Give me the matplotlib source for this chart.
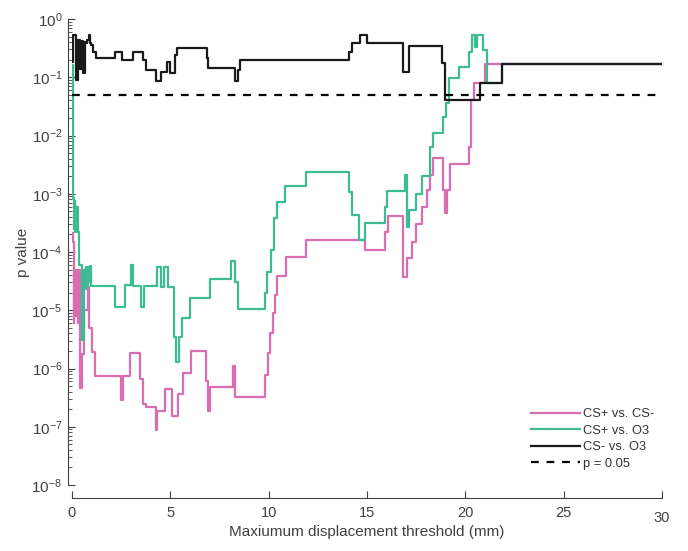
import numpy as np
import matplotlib
matplotlib.use('Agg')
import matplotlib.pyplot as plt
from matplotlib.ticker import FuncFormatter

# step data (x = threshold in mm, p value from that point on)
pink_x = [0, 0.04, 0.08, 0.12, 0.17, 0.22, 0.3, 0.35, 0.42, 0.5, 0.62, 0.8, 0.87, 1.0, 1.17,
          2.5, 2.6, 2.95, 3.45, 3.6, 3.75, 4.25, 4.33, 4.75, 5.07, 5.4, 5.65, 6.05, 6.8, 6.9,
          7.0, 8.2, 8.27, 9.8, 9.95, 10.05, 10.2, 10.3, 10.4, 10.9, 11.9, 14.9, 15.9, 16.05,
          16.85, 17.05, 17.3, 17.5, 17.8, 18.05, 18.2, 18.35, 18.85, 18.95, 19.05, 19.2,
          20.2, 20.3, 20.45, 21.0, 30]
pink_p = [2.1e-4, 1.5e-4, 6e-6, 5e-5, 8e-6, 4.9e-5, 6e-6, 4.9e-5, 4.6e-7, 1.8e-6, 1e-5, 2.5e-5,
          5e-6, 1.9e-6, 7.4e-7, 2.9e-7, 7.4e-7, 1.85e-6, 6.5e-7, 2.5e-7, 2.2e-7, 8.7e-8, 1.9e-7,
          4.5e-7, 1.5e-7, 3.6e-7, 8.3e-7, 2e-6, 6e-7, 1.9e-7, 4.8e-7, 1.1e-6, 3.2e-7, 7.7e-7,
          1.85e-6, 4e-6, 9e-6, 1.8e-5, 3.9e-5, 8.2e-5, 1.6e-4, 1.07e-4, 2.2e-4, 4.2e-4, 3.7e-5,
          7.9e-5, 1.5e-4, 3e-4, 6e-4, 1.15e-3, 2.1e-3, 4.1e-3, 1.15e-3, 4.7e-4, 1.15e-3, 3.2e-3,
          6.3e-3, 0.04, 0.08, 0.166, 0.166]

green_x = [0, 0.05, 0.1, 0.13, 0.17, 0.22, 0.3, 0.36, 0.5, 0.6, 0.65, 0.7, 0.75, 0.8, 0.85, 0.9,
           0.97, 2.2, 2.7, 3.0, 3.1, 3.5, 3.65, 4.3, 4.5, 4.7, 4.9, 5.2, 5.3, 5.45, 5.6, 6.0, 7.0,
           8.1, 8.3, 8.45, 9.8, 9.9, 10.1, 10.25, 10.4, 10.85, 11.9, 14.1, 14.25, 14.6, 14.9,
           15.9, 16.0, 16.95, 17.05, 17.15, 17.5, 17.8, 18.2, 18.35, 18.85, 19.0, 19.15, 19.7,
           20.2, 20.35, 20.5, 20.6, 20.9, 21.1, 21.85, 30]
green_p = [0.16, 8.5e-4, 2.5e-4, 7.5e-4, 2.2e-4, 6e-4, 2.2e-4, 6e-5, 3.1e-6, 5e-5, 2.3e-5, 5.5e-5,
           2.5e-5, 5.5e-5, 3e-5, 5.8e-5, 2.6e-5, 1.15e-5, 2.7e-5, 6e-5, 2.6e-5, 1.15e-5, 2.6e-5,
           5.5e-5, 2.5e-5, 5.5e-5, 2.5e-5, 3.5e-6, 1.3e-6, 3.5e-6, 7.4e-6, 1.6e-5, 3.4e-5, 7e-5,
           3e-5, 1.05e-5, 2e-5, 4.5e-5, 1.07e-4, 3.8e-4, 7.2e-4, 1.35e-3, 2.4e-3, 1.07e-3, 4.3e-4,
           1.6e-4, 3.2e-4, 6e-4, 1.1e-3, 2.1e-3, 2.7e-4, 5.3e-4, 1e-3, 2.0e-3, 6.3e-3, 0.011,
           0.021, 0.036, 0.098, 0.15, 0.27, 0.53, 0.33, 0.53, 0.29, 0.08, 0.166, 0.166]

black_x = [0, 0.06, 0.22, 0.32, 0.42, 0.5, 0.58, 0.64, 0.72, 0.78, 0.84, 0.9, 0.97, 1.08, 1.2,
           2.2, 2.55, 3.1, 3.6, 3.75, 4.27, 4.5, 4.85, 5.0, 5.25, 5.32, 6.85, 6.92, 8.3, 8.45,
           8.55, 14.1, 14.25, 14.65, 15.0, 16.85, 17.15, 18.8, 18.95, 20.75, 21.85, 30]
black_p = [0.18, 0.53, 0.09, 0.44, 0.14, 0.42, 0.12, 0.4, 0.38, 0.44, 0.53, 0.38, 0.36, 0.27, 0.21,
           0.27, 0.2, 0.27, 0.2, 0.133, 0.087, 0.123, 0.18, 0.118, 0.24, 0.32, 0.21, 0.145, 0.087,
           0.133, 0.2, 0.27, 0.39, 0.53, 0.38, 0.123, 0.34, 0.175, 0.041, 0.08, 0.166, 0.166]

alpha = 0.05
labels = ['CS+ vs. CS-', 'CS+ vs. O3', 'CS- vs. O3', 'p = 0.05']

plt.rcParams['font.family'] = ['Liberation Sans', 'DejaVu Sans']
plt.rcParams['mathtext.fontset'] = 'custom'
plt.rcParams['mathtext.rm'] = 'Liberation Sans'
plt.rcParams['mathtext.default'] = 'regular'
txt = '#404040'

fig = plt.figure(figsize=(6.88, 5.51), dpi=100)
ax = fig.add_axes([72/688, 1-485/551, 590/688, 466/551])

ax.step(pink_x, pink_p, where='post', color='#d96db0', lw=1.6, label=labels[0])
ax.step(green_x, green_p, where='post', color='#3dbb92', lw=1.6, label=labels[1])
ax.step(black_x, black_p, where='post', color='#1a1a1a', lw=1.6, label=labels[2])
ax.plot([0, 30], [alpha, alpha], ls=(0, (3.5, 3.5)), color='black', lw=1.6, label=labels[3])

ax.set_yscale('log')
ax.set_ylim(1e-8, 1)
ax.set_xlim(0, 30)
ax.set_xticks([0, 5, 10, 15, 20, 25, 30])
ax.set_yticks([10.0**k for k in range(-8, 1)])
ax.yaxis.set_major_formatter(FuncFormatter(lambda v, pos: '10$^{%d}$' % round(np.log10(v))))

for s in ['top', 'right']:
    ax.spines[s].set_visible(False)
ax.spines['left'].set_position(('outward', 3))
ax.spines['bottom'].set_position(('outward', 9))
for s in ['left', 'bottom']:
    ax.spines[s].set_color(txt)
    ax.spines[s].set_linewidth(0.8)

ax.tick_params(axis='both', which='major', direction='in', length=5, width=0.8,
               colors=txt, labelsize=10.5, pad=6)
ax.tick_params(axis='y', which='minor', direction='in', length=3, width=0.6, colors=txt)
ax.tick_params(axis='y', which='major', pad=4, labelsize=11)

# odd dropped "30" label as in the reference
ax.get_xticklabels()[-1].set_y(-0.012)

ax.set_xlabel('Maxiumum displacement threshold (mm)', fontsize=11, color=txt, labelpad=0)
ax.set_ylabel('p value', fontsize=11, color=txt, labelpad=1)

leg = ax.legend(loc='upper left', bbox_to_anchor=(526/688, 1-403/551),
                bbox_transform=fig.transFigure, frameon=False, fontsize=9.3,
                handlelength=3.8, handletextpad=0.2, labelspacing=0.35, borderaxespad=0)
for t in leg.get_texts():
    t.set_color('#333333')

fig.savefig('out.png', dpi=100)
